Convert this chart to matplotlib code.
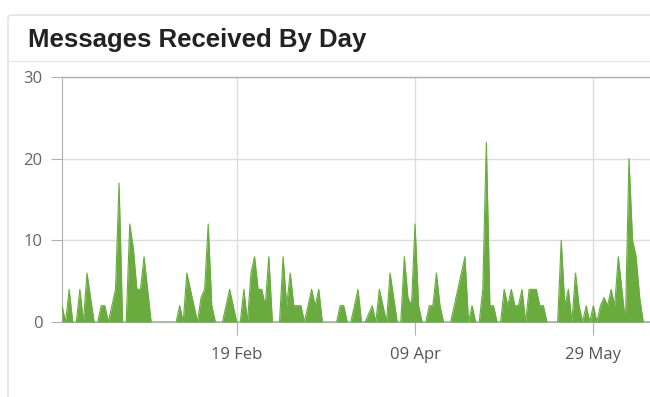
import matplotlib
matplotlib.use("Agg")
import matplotlib.pyplot as plt
from matplotlib.patches import FancyBboxPatch
from matplotlib.lines import Line2D
import pandas as pd

start_date = "2020-01-01"
messages = [
    2, 0, 4, 0, 0, 4, 0, 6, 3, 0,
    0, 2, 2, 0, 2, 4, 17, 0, 0, 12,
    9, 4, 4, 8, 4, 0, 0, 0, 0, 0,
    0, 0, 0, 2, 0, 6, 4, 2, 0, 3,
    4, 12, 2, 0, 0, 0, 2, 4, 2, 0,
    0, 4, 0, 6, 8, 4, 4, 2, 8, 0,
    0, 0, 8, 2, 6, 2, 2, 2, 0, 2,
    4, 2, 4, 0, 0, 0, 0, 0, 2, 2,
    0, 0, 2, 4, 0, 0, 1, 2, 0, 4,
    2, 0, 6, 3, 0, 0, 8, 3, 2, 12,
    2, 0, 0, 2, 2, 6, 2, 0, 0, 0,
    2, 4, 6, 8, 0, 2, 0, 0, 4, 22,
    2, 2, 0, 0, 4, 2, 4, 2, 2, 4,
    0, 4, 4, 4, 2, 2, 0, 0, 0, 0,
    10, 2, 4, 0, 6, 2, 0, 2, 0, 2,
    0, 2, 3, 2, 4, 2, 8, 4, 0, 20,
    10, 8, 3, 0, 0, 0,
]
tick_dates = ["2020-02-19", "2020-04-09", "2020-05-29"]
tick_labels = ["19 Feb", "09 Apr", "29 May"]
y_ticks = [0, 10, 20, 30]
title = "Messages Received By Day"

dates = pd.date_range(start_date, periods=len(messages), freq="D")

W, H = 650, 397
fig = plt.figure(figsize=(W / 100, H / 100), dpi=100)
fig.patch.set_facecolor("white")

# card
card = FancyBboxPatch((8 / W, -20 / H), (W + 40) / W, (H - 15 + 20) / H,
                      boxstyle="round,pad=0,rounding_size=0.008",
                      transform=fig.transFigure, facecolor="white",
                      edgecolor="#e3e3e3", linewidth=1.2, zorder=-5)
fig.patches.append(card)
fig.lines.append(Line2D([9 / W, 1.0], [1 - 61 / H, 1 - 61 / H],
                        transform=fig.transFigure, color="#e6e6e6", lw=1.0,
                        zorder=-4))
fig.text(28 / W, 1 - 40 / H, title, fontsize=18.5, fontweight="bold",
         family=["Liberation Sans", "DejaVu Sans"], color="#222222",
         va="center", ha="left")

left, right = 62 / W, 1.0
bottom, top = (H - 322) / H, (H - 77) / H
ax = fig.add_axes([left, bottom, right - left, top - bottom])
ax.set_zorder(5)
ax.set_facecolor("white")

green = "#6aab40"
ax.fill_between(dates, messages, 0, color=green, linewidth=0, zorder=3)
ax.plot(dates, messages, color=green, linewidth=0.8, zorder=3)

x0 = dates[0]
ax.set_xlim(x0, x0 + pd.Timedelta(days=164.9))
ax.set_ylim(0, 30)

ax.set_yticks(y_ticks)
ax.set_yticklabels([str(v) for v in y_ticks])
ax.set_xticks(pd.to_datetime(tick_dates))
ax.set_xticklabels(tick_labels)

ax.grid(True, color="#dcdcdc", linewidth=1.0, zorder=0)
ax.set_axisbelow(True)
for s in ["top", "right"]:
    ax.spines[s].set_visible(False)
ax.spines["left"].set_color("#b0b0b0")
ax.spines["bottom"].set_color("#b0b0b0")
ax.axhline(30, color="#b0b0b0", lw=1.0, zorder=1, clip_on=False)

ax.tick_params(axis="y", length=8, color="#b0b0b0", labelsize=12,
               labelcolor="#666666", pad=6)
ax.tick_params(axis="x", length=9, color="#b0b0b0", labelsize=12,
               labelcolor="#555555", pad=9)
for lab in ax.get_xticklabels() + ax.get_yticklabels():
    lab.set_family(["Open Sans", "DejaVu Sans"])

fig.savefig("out.png", dpi=100, facecolor="white")
